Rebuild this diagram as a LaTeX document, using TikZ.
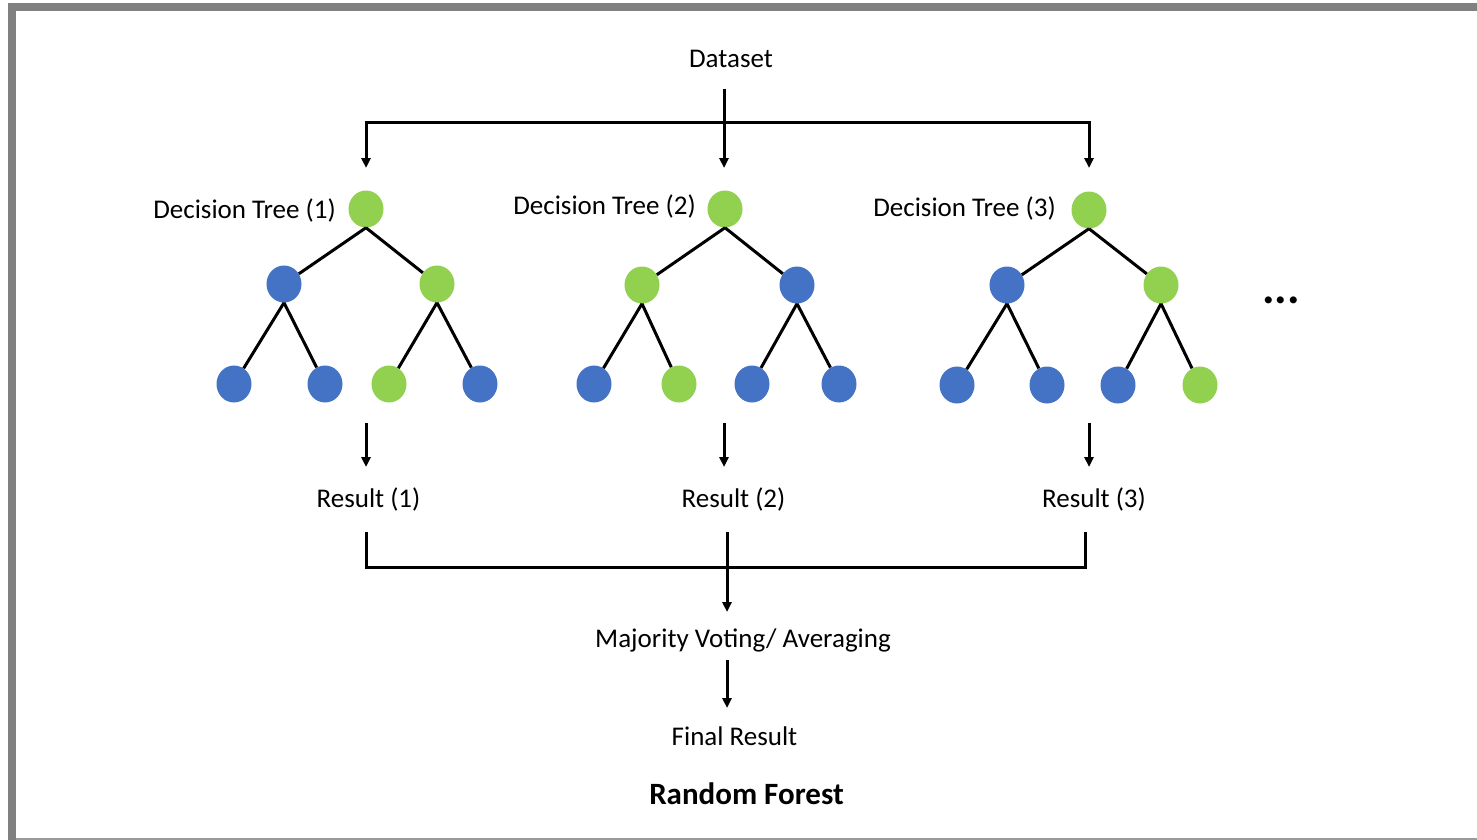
\documentclass[tikz,border=0pt]{standalone}
\usepackage{fontspec}
\setmainfont{Carlito}
\usetikzlibrary{shapes.geometric,arrows.meta}
\definecolor{lgreen}{HTML}{92D050}
\definecolor{mblue}{HTML}{4472C4}
\definecolor{bordergray}{HTML}{808080}
\begin{document}
\begin{tikzpicture}[x=1pt,y=-1pt,
  nd/.style={ellipse,minimum width=35pt,minimum height=37pt,inner sep=0pt},
  gn/.style={nd,fill=lgreen},
  bn/.style={nd,fill=mblue},
  edge/.style={line width=3pt},
  conn/.style={line width=3pt,line join=miter},
  arr/.style={line width=3pt,line join=miter,-{Triangle[width=9pt,length=10pt]}},
  lbl/.style={font=\fontsize{27}{32}\selectfont,inner sep=0pt,anchor=base},
  dtl/.style={font=\fontsize{27}{32}\selectfont,inner sep=0pt,anchor=base east},
  ttl/.style={font=\fontsize{31}{36}\selectfont\bfseries,inner sep=0pt,anchor=base}]
\useasboundingbox (0,0) rectangle (1477,840);
\fill[white] (0,0) rectangle (1477,840);
% frame
\fill[bordergray] (8,3) rectangle (1477,11);
\fill[bordergray] (8,3) rectangle (16,840);
\draw[bordergray!80,line width=1.5pt] (16,839.2) -- (1477,839.2);

% texts
\node[lbl] (ds) at (731,68) {Dataset};
\node[dtl] (dt1) at (336,218) {Decision Tree (1)};
\node[dtl] (dt2) at (696,214) {Decision Tree (2)};
\node[dtl] (dt3) at (1056,216) {Decision Tree (3)};
\node[lbl] (res1) at (368.5,507) {Result (1)};
\node[lbl] (res2) at (733.5,507) {Result (2)};
\node[lbl] (res3) at (1094,507) {Result (3)};
\node[lbl] (maj) at (743,647) {Majority Voting/ Averaging};
\node[lbl] (fin) at (734.5,745) {Final Result};
\node[ttl] (rf) at (746.5,804) {Random Forest};
\node[font=\fontsize{47}{50}\selectfont\bfseries,inner sep=0pt,anchor=base] (dots) at (1281,303) {...};

% tree 1
\node[gn] (t1r) at (366,209) {};
\node[bn] (t1a) at (284,284) {};
\node[gn] (t1b) at (437,284) {};
\node[bn] (t1aa) at (234,384) {};
\node[bn] (t1ab) at (325,384) {};
\node[gn] (t1ba) at (389,384) {};
\node[bn] (t1bb) at (480,384) {};
% tree 2
\node[gn] (t2r) at (725,209) {};
\node[gn] (t2a) at (642,285) {};
\node[bn] (t2b) at (797,285) {};
\node[bn] (t2aa) at (594,384) {};
\node[gn] (t2ab) at (679,384) {};
\node[bn] (t2ba) at (752,384) {};
\node[bn] (t2bb) at (839,384) {};
% tree 3
\node[gn] (t3r) at (1089,210) {};
\node[bn] (t3a) at (1007,285) {};
\node[gn] (t3b) at (1161,285) {};
\node[bn] (t3aa) at (957,385) {};
\node[bn] (t3ab) at (1047,385) {};
\node[bn] (t3ba) at (1118,385) {};
\node[gn] (t3bb) at (1200,385) {};

\foreach \t in {1,2,3}{
  \draw[edge] (t\t r.south) -- (t\t a);
  \draw[edge] (t\t r.south) -- (t\t b);
  \draw[edge] (t\t a.south) -- (t\t aa);
  \draw[edge] (t\t a.south) -- (t\t ab);
  \draw[edge] (t\t b.south) -- (t\t ba);
  \draw[edge] (t\t b.south) -- (t\t bb);
}

% top distribution
\coordinate (dtop) at (724,89);
\coordinate (barL) at (366,123);
\coordinate (barR) at (1089,123);
\coordinate (e1) at (366,168);
\coordinate (e2) at (724,168);
\coordinate (e3) at (1089,168);
\draw[arr] (barR) -- (barL) -- (e1);
\draw[arr] (barL) -- (barR) -- (e3);
\draw[arr] (dtop) -- (e2);

% tree -> result arrows
\coordinate (s1) at (366,423); \coordinate (f1) at (366,467);
\coordinate (s2) at (724,423); \coordinate (f2) at (724,467);
\coordinate (s3) at (1089,423); \coordinate (f3) at (1089,467);
\draw[arr] (s1) -- (f1);
\draw[arr] (s2) -- (f2);
\draw[arr] (s3) -- (f3);

% results -> majority
\coordinate (u1) at (366,532);
\coordinate (u2) at (727,532);
\coordinate (u3) at (1085,532);
\coordinate (b1) at (366,567);
\coordinate (b3) at (1085,567);
\coordinate (m2) at (727,612);
\draw[conn] (u1) -- (b1) -- (b3) -- (u3);
\draw[arr] (u2) -- (m2);

% majority -> final
\coordinate (g1) at (727,660);
\coordinate (g2) at (727,708);
\draw[arr] (g1) -- (g2);
\end{tikzpicture}
\end{document}
